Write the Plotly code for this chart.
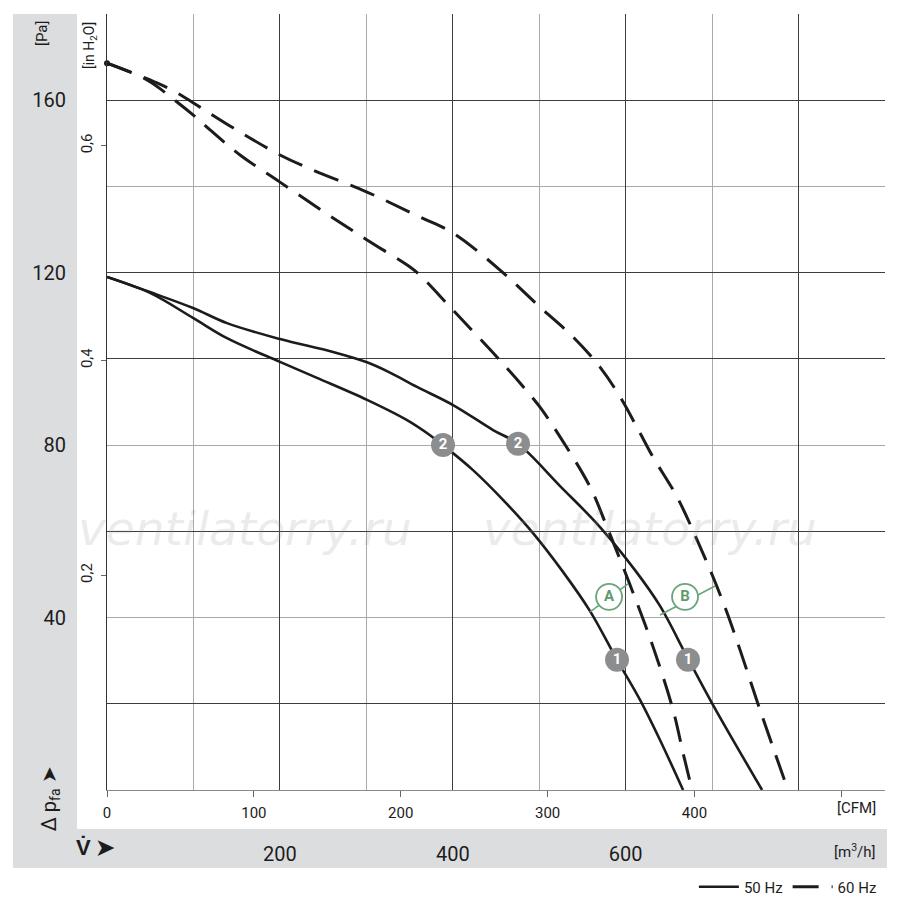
import plotly.graph_objects as go

# ---------------- data (flow in m³/h, pressure in Pa) ----------------
q_50_1 = [0, 49.7, 99.5, 138.8, 200.1, 242.9, 300.8, 347.1, 373.7, 388.7, 423.4, 458.1, 492.8, 527.5,
          558.8, 590.0, 616.6, 639.7, 666.4]
p_50_1 = [119.0, 115.3, 109.5, 104.8, 99.3, 95.6, 90.5, 85.8, 82.3, 80.0, 74.2, 67.3, 59.6, 50.6,
          41.5, 30.2, 20.9, 11.6, 0]

q_50_2 = [0, 49.7, 99.5, 138.8, 200.1, 261.5, 300.8, 327.4, 358.6, 400.3, 446.6, 475.5, 524.1, 570.3,
          610.8, 639.7, 671.0, 701.1, 757.8]
p_50_2 = [119.0, 115.5, 111.8, 108.3, 104.6, 101.6, 99.2, 96.8, 93.5, 89.3, 83.5, 80.3, 70.5, 61.0,
          51.0, 42.7, 30.9, 19.7, 0]

q_60_1 = [0, 46.3, 81.0, 99.5, 119.2, 153.9, 200.1, 261.5, 300.8, 350.5, 362.1, 400.3, 446.6, 477.8,
          500.9, 524.1, 558.8, 578.4, 605.0, 631.7, 654.8, 666.4, 676.8]
p_60_1 = [168.6, 164.7, 159.6, 156.6, 153.1, 147.3, 141.0, 132.7, 127.6, 121.3, 119.4, 111.3, 101.4, 94.4,
          88.8, 81.9, 70.3, 61.0, 47.6, 33.2, 18.6, 8.6, 0]

q_60_2 = [0, 57.8, 81.0, 107.6, 145.8, 200.1, 238.3, 300.8, 362.1, 400.3, 454.7, 500.9, 539.1, 570.3,
          593.5, 616.6, 631.7, 659.4, 682.6, 701.1, 717.3, 732.3, 755.4, 787.8]
p_60_2 = [168.6, 164.0, 161.7, 158.4, 153.6, 147.3, 143.8, 138.7, 132.9, 129.2, 120.6, 112.0, 105.1, 98.1,
          91.2, 82.8, 77.2, 68.0, 58.0, 49.4, 41.1, 32.5, 18.6, 0]

# operating-point badges
badge_q = [388.7, 475.5, 590.0, 672.1]
badge_p = [80.0, 80.3, 30.2, 30.2]
badge_txt = ["2", "2", "1", "1"]

# A / B labels and their leader lines
ab_q = [580.8, 668.7]
ab_p = [44.8, 44.8]
ab_txt = ["A", "B"]
leadA_q = [558.8, 602.7]
leadA_p = [41.3, 47.8]
leadB_q = [639.7, 703.4]
leadB_p = [40.6, 47.3]

# axis ticks
pa_ticks = [40, 80, 120, 160]
pa_light = [20, 40, 60, 80, 100, 120, 140, 160, 180]
pa_dark = [20, 60, 100, 120, 160]
q_ticks = [200, 400, 600]
q_light = [100, 300, 500, 700, 900]
q_dark = [200, 400, 600, 800]
cfm_ticks = [0, 100, 200, 300, 400, 500]
cfm_text = ["0", "100", "200", "300", "400", " "]
inh2o_ticks = [0.2, 0.4, 0.6]
inh2o_text = ["0,2", "0,4", "0,6"]

Q_MAX = 900
P_MAX = 180
CFM_PER_M3H = 1 / 1.69901
PA_PER_INH2O = 249.089

FONT = "Roboto, Liberation Sans, sans-serif"
INK = "#1c1c1c"
DASH = "26px,13px"
SPL = dict(shape="spline", smoothing=1.0)

fig = go.Figure()

fig.add_trace(go.Scatter(x=q_50_1, y=p_50_1, mode="lines", name="50 Hz",
                         line=dict(color=INK, width=2.6, **SPL), showlegend=True, hoverinfo="skip"))
fig.add_trace(go.Scatter(x=q_50_2, y=p_50_2, mode="lines", name="50 Hz",
                         line=dict(color=INK, width=2.6, **SPL), showlegend=False, hoverinfo="skip"))
fig.add_trace(go.Scatter(x=q_60_1, y=p_60_1, mode="lines", name="60 Hz",
                         line=dict(color=INK, width=3, dash=DASH, **SPL), showlegend=True, hoverinfo="skip"))
fig.add_trace(go.Scatter(x=q_60_2, y=p_60_2, mode="lines", name="60 Hz",
                         line=dict(color=INK, width=3, dash=DASH, **SPL), showlegend=False, hoverinfo="skip"))
# start dot of the 60 Hz curves
fig.add_trace(go.Scatter(x=q_60_1[:1], y=p_60_1[:1], mode="markers",
                         marker=dict(color=INK, size=6), cliponaxis=False,
                         showlegend=False, hoverinfo="skip"))

# leader lines
fig.add_trace(go.Scatter(x=leadA_q, y=leadA_p, mode="lines", line=dict(color="#6aa57a", width=1.6),
                         showlegend=False, hoverinfo="skip"))
fig.add_trace(go.Scatter(x=leadB_q, y=leadB_p, mode="lines", line=dict(color="#6aa57a", width=1.6),
                         showlegend=False, hoverinfo="skip"))
# A / B circles
fig.add_trace(go.Scatter(x=ab_q, y=ab_p, mode="markers+text", text=ab_txt,
                         textposition="middle center",
                         textfont=dict(family=FONT, size=15, color="#5e9c6e", weight="bold"),
                         marker=dict(size=26, color="white", line=dict(color="#6aa57a", width=1.8)),
                         showlegend=False, hoverinfo="skip"))
# grey number badges
fig.add_trace(go.Scatter(x=badge_q, y=badge_p, mode="markers+text", text=badge_txt,
                         textposition="middle center",
                         textfont=dict(family=FONT, size=15, color="white", weight="bold"),
                         marker=dict(size=24, color="#8c8d8f", line=dict(width=0)),
                         showlegend=False, hoverinfo="skip"))

# empty traces so that the secondary axes exist
fig.add_trace(go.Scatter(x=[], y=[], xaxis="x2", yaxis="y2", showlegend=False, hoverinfo="skip"))
fig.add_trace(go.Scatter(x=[], y=[], xaxis="x3", yaxis="y3", showlegend=False, hoverinfo="skip"))

# grey bands
BAND = "#dcdddf"
fig.add_shape(type="rect", xref="paper", yref="paper", x0=-0.1208, x1=-0.0386, y0=-0.1005, y1=1.0,
              fillcolor=BAND, line=dict(width=0), layer="below")
fig.add_shape(type="rect", xref="paper", yref="paper", x0=-0.1208, x1=1.0026, y0=-0.1005, y1=-0.0503,
              fillcolor=BAND, line=dict(width=0), layer="below")

ann = []
wm_font = dict(family="DejaVu Sans, sans-serif", size=47, color="rgba(150,150,150,0.2)", style="italic")
for wx in [0.1774, 0.698]:
    ann.append(dict(x=wx, y=0.3376, text="ventilatorry.ru", font=wm_font))

ann += [
    dict(x=-0.0835, y=0.9755, text="[Pa]", textangle=-90,
         font=dict(family=FONT, size=15, color=INK)),
    dict(x=-0.0218, y=0.9588, text="[in H<sub>2</sub>O]", textangle=-90,
         font=dict(family=FONT, size=14, color=INK)),
    dict(x=-0.073, y=-0.0116, text="Δ p<sub>fa</sub> ➤", textangle=-90,
         font=dict(family=FONT, size=20, color=INK)),
    dict(x=-0.0154, y=-0.0747, text="V̇ ➤",
         font=dict(family=FONT, size=22, color=INK, weight="bold")),
    dict(x=0.964, y=-0.0232, text="[CFM]",
         font=dict(family=FONT, size=15, color=INK)),
    dict(x=0.9614, y=-0.0786, text="[m<sup>3</sup>/h]",
         font=dict(family=FONT, size=15, color=INK)),
]
for a in ann:
    a.update(xref="paper", yref="paper", showarrow=False, xanchor="center", yanchor="middle")

fig.update_layout(
    width=900, height=898,
    margin=dict(l=107, r=15, t=14, b=108, autoexpand=False),
    template="none",
    paper_bgcolor="white", plot_bgcolor="white",
    font=dict(family=FONT, color=INK),
    annotations=ann,
    showlegend=True,
    hovermode=False,
    legend=dict(orientation="h", x=0.996, xanchor="right", y=-0.125, yanchor="middle",
                font=dict(family=FONT, size=15, color=INK), bgcolor="rgba(0,0,0,0)",
                itemwidth=40, tracegroupgap=0),
    xaxis=dict(range=[0, Q_MAX], tickvals=q_ticks, ticks="", showgrid=False,
               showline=True, linecolor="#8a8a8a", linewidth=1.2, zeroline=False,
               tickfont=dict(family=FONT, size=20, color=INK), ticklabelstandoff=46,
               minor=dict(tickvals=q_light, showgrid=True, gridcolor="#a9a9a9",
                          gridwidth=1.2, ticks="")),
    xaxis2=dict(range=[0, Q_MAX * CFM_PER_M3H], overlaying="x", side="bottom", anchor="y",
                tickvals=cfm_ticks, ticktext=cfm_text, ticks="outside", ticklen=6, tickcolor="#666",
                showgrid=False, zeroline=False, showline=False,
                tickfont=dict(family=FONT, size=15, color=INK), ticklabelstandoff=3),
    xaxis3=dict(range=[0, Q_MAX], overlaying="x", anchor="y", tickvals=q_dark, showticklabels=False,
                ticks="", showgrid=True, gridcolor="#3d3d3d", gridwidth=1, zeroline=False, showline=False),
    yaxis=dict(range=[0, P_MAX], tickvals=pa_ticks, ticks="", showgrid=False,
               showline=True, linecolor="#333", linewidth=1.2, zeroline=False,
               tickfont=dict(family=FONT, size=20, color=INK), ticklabelstandoff=36,
               minor=dict(tickvals=pa_light, showgrid=True,
                          gridcolor="#a9a9a9", gridwidth=1.2, ticks="")),
    yaxis2=dict(range=[0, P_MAX / PA_PER_INH2O], overlaying="y", side="left", anchor="x",
                tickvals=inh2o_ticks, ticktext=inh2o_text, tickangle=-90, ticks="outside", ticklen=5,
                tickcolor="#666", showgrid=False, zeroline=False, showline=False,
                tickfont=dict(family=FONT, size=15, color=INK), ticklabelstandoff=3),
    yaxis3=dict(range=[0, P_MAX], overlaying="y", anchor="x", tickvals=pa_dark, showticklabels=False,
                ticks="", showgrid=True, gridcolor="#3d3d3d", gridwidth=1, zeroline=False, showline=False),
)

fig.write_html("out.html", config={"displayModeBar": False},
               post_script="document.body.style.margin='0px';")
